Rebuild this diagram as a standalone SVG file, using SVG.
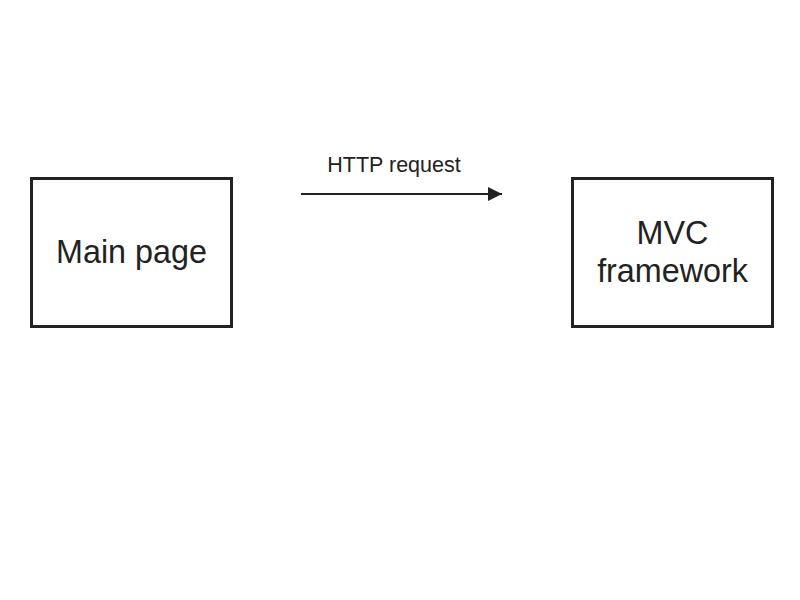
<svg xmlns="http://www.w3.org/2000/svg" width="800" height="600" viewBox="0 0 800 600">
<defs>
<style>
.box{fill:#fff;stroke:#222;stroke-width:3}
.lbl{font-family:"Liberation Sans",Arial,sans-serif;fill:#222;text-anchor:middle}
.big{font-size:32.3px}
.small{font-size:21.5px}
.conn{stroke:#222;stroke-width:2;fill:none}
</style>
<marker id="arr" markerUnits="userSpaceOnUse" markerWidth="16" markerHeight="14" refX="14" refY="7" orient="auto">
<path d="M0,0 L14,7 L0,14 z" fill="#222"/>
</marker>
</defs>
<rect width="800" height="600" fill="#fff"/>
<g id="main-page">
<rect class="box" x="31.5" y="178.5" width="200" height="148"/>
<text class="lbl big" x="131.5" y="263">Main page</text>
</g>
<g id="mvc-framework">
<rect class="box" x="572.5" y="178.5" width="200" height="148"/>
<text class="lbl big" x="672.5" y="244">MVC</text>
<text class="lbl big" x="672.5" y="282">framework</text>
</g>
<g id="connectors">
<line class="conn" x1="301" y1="194" x2="502" y2="194" marker-end="url(#arr)"/>
<text class="lbl small" x="394" y="172">HTTP request</text>
</g>
</svg>
